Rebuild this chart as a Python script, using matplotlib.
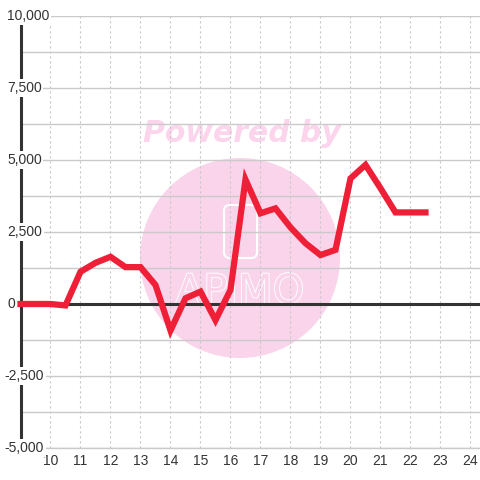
import matplotlib
matplotlib.use('Agg')
import matplotlib.pyplot as plt
from matplotlib import transforms, patches, patheffects

# ---- data ----
x_vals = [9.0, 9.5, 10.0, 10.5, 11.0, 11.5, 12.0, 12.5, 13.0, 13.5, 14.0, 14.5,
          15.0, 15.5, 16.0, 16.5, 17.0, 17.5, 18.0, 18.5, 19.0, 19.5, 20.0,
          20.5, 21.0, 21.5, 22.0, 22.5]
y_vals = [0, 0, 0, -50, 1120, 1430, 1640, 1280, 1280, 660, -920, 200,
          430, -560, 490, 4320, 3150, 3320, 2660, 2110, 1700, 1880, 4360,
          4830, 4020, 3180, 3180, 3180]
y_major = [10000, 7500, 5000, 2500, 0, -2500, -5000]
y_minor = [8750, 6250, 3750, 1250, -1250, -3750]
x_ticks = list(range(10, 25))

plt.rcParams['font.family'] = ['Liberation Sans', 'DejaVu Sans']

fig = plt.figure(figsize=(4.8, 4.8), dpi=100)
fig.patch.set_facecolor('white')
ax = fig.add_axes([20.5 / 480, 32 / 480, 459.5 / 480, 432 / 480])
ax.set_facecolor('none')
ax.set_xlim(9, 24.317)
ax.set_ylim(-5000, 10000)

for s in ax.spines.values():
    s.set_visible(False)

ax.set_yticks(y_major)
ax.set_yticks(y_minor, minor=True)
ax.set_xticks(x_ticks)
ax.grid(axis='y', which='both', color='#cacaca', lw=1, ls='-')
ax.grid(axis='x', which='major', color='#c8c8c8', lw=0.8, ls=(0, (2, 2.5)))
ax.tick_params(axis='y', which='both', length=0, labelleft=False)
ax.tick_params(axis='x', length=0, labelsize=10, labelcolor='#333333', pad=4.5)

# watermark (behind grid)
pink = '#FAD4EB'
circ = patches.Circle((240 / 480, 222 / 480), 100 / 480, transform=fig.transFigure,
                      facecolor=pink, edgecolor='none', zorder=0.5, clip_on=False)
ax.add_patch(circ)
rect = patches.FancyBboxPatch((224 / 480, 222 / 480), 33 / 480, 53 / 480,
                              boxstyle='round,pad=0,rounding_size=0.012',
                              transform=fig.transFigure, facecolor='none',
                              edgecolor='white', lw=1.5, zorder=0.6, clip_on=False)
ax.add_patch(rect)
ax.text(240 / 480, 1 - 292 / 480, 'APiMO', transform=fig.transFigure, ha='center',
        va='center', fontsize=29, family='DejaVu Sans', color=pink, zorder=0.6,
        path_effects=[patheffects.withStroke(linewidth=1.3, foreground='white')])
ax.text(242 / 480, 1 - 134 / 480, 'Powered by', transform=fig.transFigure,
        ha='center', va='center', fontsize=21.5, family='DejaVu Sans',
        fontweight='bold', fontstyle='italic', color='#FCD4EC', zorder=0.6)

# axis lines
ax.axvline(9, color='#333333', lw=2.2, zorder=1.7, clip_on=False)
ax.axhline(-5000, color='#cacaca', lw=1, zorder=1.6, clip_on=False)
ax.axhline(0, color='#333333', lw=2.2, zorder=1.7)

# data line
ax.plot(x_vals, y_vals, color='#EE1F36', lw=4.5, solid_joinstyle='miter',
        solid_capstyle='projecting', zorder=3, clip_on=False)

# y tick labels
trans = transforms.blended_transform_factory(fig.transFigure, ax.transData)
for v in y_major:
    lab = f'{v:,}'
    if v >= 0:
        xpos, ha = 7 / 480, 'left'
    else:
        xpos, ha = 44 / 480, 'right'
    ax.text(xpos, v, lab, transform=trans, ha=ha, va='center', fontsize=10,
            color='#333333', zorder=5, clip_on=False,
            bbox=dict(boxstyle='square,pad=0.12', facecolor='white', edgecolor='none'))

fig.savefig('out.png', dpi=100, facecolor='white')
